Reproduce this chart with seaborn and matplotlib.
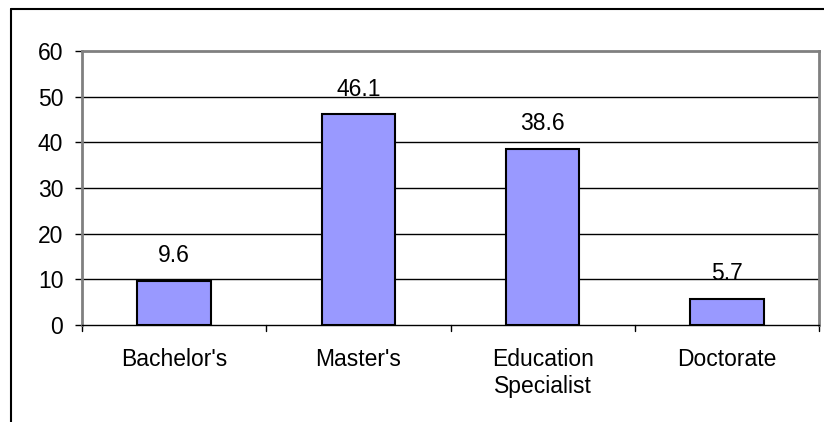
import matplotlib
matplotlib.use("Agg")
import matplotlib.pyplot as plt
import seaborn as sns
import pandas as pd
from matplotlib.lines import Line2D

categories = ["Bachelor's", "Master's", "Education\nSpecialist", "Doctorate"]
values = [9.6, 46.1, 38.6, 5.7]
yticks = [0, 10, 20, 30, 40, 50, 60]

sns.set_style("white")
plt.rcParams['font.family'] = ['Liberation Sans', 'DejaVu Sans']
plt.rcParams['text.color'] = 'black'
plt.rcParams['ytick.labelcolor'] = 'black'

FS = 16.5
W, H = 824, 422
fig = plt.figure(figsize=(W/100, H/100), dpi=100)
ax = fig.add_axes([82/W, 1-325/H, (819-82)/W, (325-51)/H])

df = pd.DataFrame({"cat": categories, "val": values})
sns.barplot(data=df, x="cat", y="val", ax=ax, color="#9999FF", saturation=1,
            width=0.4, edgecolor="black", linewidth=1.5, zorder=3)

ax.set_ylim(0, 60)
ax.set_xlim(-0.5, 3.5)
ax.set_yticks(yticks)
ax.set_yticklabels([str(t) for t in yticks], fontsize=FS, color='black')
ax.set_xlabel("")
ax.set_ylabel("")
ax.set_xticks([])
ax.tick_params(axis='y', length=5, width=1, color='black', direction='out', pad=8.5, left=True)
ax.tick_params(axis='x', bottom=False)
for y in yticks[1:-1]:
    ax.axhline(y, color='black', lw=1, zorder=1)

for i, c in enumerate(categories):
    ax.annotate(c, xy=(i, 0), xycoords=ax.get_xaxis_transform(), xytext=(0, -16.5),
                textcoords='offset points', ha='center', va='top', fontsize=FS,
                linespacing=1.2, color='black')
    ax.annotate(f"{values[i]}", xy=(i, values[i]), xytext=(0, 13.5),
                textcoords='offset points', ha='center', va='baseline', fontsize=FS,
                color='black')

# category boundary ticks on x axis
for b in [-0.5, 0.5, 1.5, 2.5, 3.5]:
    ax.plot([b, b], [0, -0.022], transform=ax.get_xaxis_transform(), color='black', lw=1, clip_on=False)

for s in ['top', 'right', 'left']:
    ax.spines[s].set_color('#808080')
    ax.spines[s].set_linewidth(2)
    ax.spines[s].set_visible(True)
ax.spines['bottom'].set_color('black')
ax.spines['bottom'].set_linewidth(1)
ax.spines['bottom'].set_zorder(5)

# outer frame
fig.add_artist(Line2D([11/W, 1.0], [1-9/H, 1-9/H], transform=fig.transFigure, color='black', lw=1.5))
fig.add_artist(Line2D([11/W, 11/W], [0, 1-9/H], transform=fig.transFigure, color='black', lw=1.5))

fig.savefig("out.png", dpi=100)
